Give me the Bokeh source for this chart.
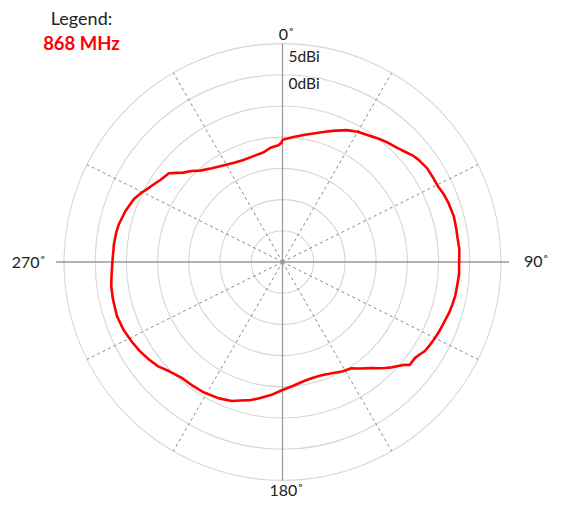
import math
from bokeh.plotting import figure
from bokeh.models import Range1d, ColumnDataSource
from bokeh.embed import file_html
from bokeh.resources import INLINE
from bokeh.core.properties import value

# ---- data ----
angles_deg = [0, 5, 10, 15, 18, 21, 26, 30, 34, 38, 41, 45, 48, 51, 53, 57, 61, 64, 67, 70,
              75, 79, 82, 86, 90, 94, 97, 101, 104, 107, 110, 114, 117, 120, 122, 124, 126, 129,
              130, 132, 134, 136, 138, 140, 144, 147, 151, 156, 161, 166, 170, 175, 180, 185,
              190, 193, 197, 200, 205, 211, 216, 221, 226, 230, 234, 238, 242, 247, 252, 258,
              262, 265, 270, 276, 280, 283, 288, 293, 296, 298, 301, 304, 306, 308, 310, 312,
              315, 318, 323, 329, 334, 339, 345, 350, 354, 358, 359.5, 360]
gain_dbi = [-10.4, -9.9, -9.3, -8.6, -8.05, -7.5, -6.5, -5.9, -5.5, -4.95, -4.55, -4.1, -3.6,
            -3.0, -2.75, -2.4, -2.35, -2.3, -2.0, -1.8, -1.6, -1.65, -1.7, -1.6, -1.7, -1.65,
            -1.75, -1.8, -1.95, -2.1, -2.35, -2.55, -2.75, -2.95, -3.1, -3.5, -3.8, -3.8, -4.4,
            -5.1, -5.7, -6.4, -7.1, -7.8, -8.9, -9.7, -10.0, -10.5, -10.8, -10.8, -10.6, -10.1,
            -9.5, -8.6, -7.8, -7.3, -6.8, -6.3, -5.9, -5.6, -5.5, -5.4, -4.8, -4.0, -3.5, -3.05,
            -2.7, -2.3, -2.1, -2.2, -2.3, -2.5, -2.75, -2.85, -2.95, -3.1, -3.55, -4.15, -4.8,
            -5.3, -5.9, -6.45, -6.7, -6.9, -7.8, -8.6, -9.4, -10.3, -11.2, -11.9, -12.3, -12.5,
            -12.4, -12.2, -11.6, -11.3, -10.9, -10.4]
ring_dbi = [-25, -20, -15, -10, -5, 0, 5]
ring_label_dbi = [5, 0]
ring_labels = ["5dBi", "0dBi"]
axis_angles = [0, 90, 180, 270]
axis_labels = ["0˚", "90˚", "180˚", "270˚"]
spoke_angles = [30, 63.5, 116.5, 150, 210, 243.5, 296.5, 330]
legend_title = "Legend:"
series_name = "868 MHz"

R_MIN, R_MAX = -30.0, 5.0
SPAN = R_MAX - R_MIN

# ---- layout ----
W, H = 555, 498
CXP, CYP = 282, 261.5               # pattern centre in figure pixels
RPX = 218.5                         # outer ring radius in pixels
S = RPX / SPAN                      # pixels per data unit


def px(xp, yp):
    """figure-pixel position -> data position"""
    return (xp - CXP) / S, (CYP - yp) / S


def polar(a_deg, r):
    a = math.radians(a_deg)
    return r * math.sin(a), r * math.cos(a)


p = figure(width=W, height=H, output_backend="svg", toolbar_location=None,
           x_axis_type=None, y_axis_type=None, min_border=0,
           x_range=Range1d(-CXP / S, (W - CXP) / S),
           y_range=Range1d(-(H - CYP) / S, CYP / S))
p.outline_line_color = None
p.grid.visible = False
p.background_fill_color = "white"
p.border_fill_color = "white"

# rings
rings = ColumnDataSource(dict(x=[0] * len(ring_dbi), y=[0] * len(ring_dbi),
                              r=[d - R_MIN for d in ring_dbi]))
p.circle(x="x", y="y", radius="r", source=rings, fill_color=None,
         line_color="#d6d6d6", line_width=1.1)

# dashed spokes
sx, sy = zip(*[polar(a, SPAN) for a in spoke_angles])
p.segment(x0=[0] * len(spoke_angles), y0=[0] * len(spoke_angles), x1=list(sx), y1=list(sy),
          line_color="#8a8a8a", line_width=1, line_dash="3 3")

# main axes
ext = 8 / S
p.segment(x0=[-(SPAN + ext)], y0=[0], x1=[SPAN + ext], y1=[0], line_color="#9a9a9a", line_width=1.3)
p.segment(x0=[0], y0=[-SPAN], x1=[0], y1=[SPAN], line_color="#9a9a9a", line_width=1.3)

# pattern
pts = [polar(a, g - R_MIN) for a, g in zip(angles_deg, gain_dbi)]
p.line(x=[q[0] for q in pts], y=[q[1] for q in pts], line_color="#ff0000", line_width=2.6,
       line_join="round")

FONT = value("Lato")
TXT = "#222222"

# angle labels
offs = {0: (4, -10.5, "center"), 90: (23, -2, "left"), 180: (4, 8.5, "center"),
        270: (-18, -1, "right")}
for a, lab in zip(axis_angles, axis_labels):
    x, y = polar(a, SPAN)
    dx, dy, al = offs[a]
    p.text(x=[x], y=[y], text=[lab], x_offset=dx, y_offset=dy, text_align=al,
           text_baseline="middle", text_font=FONT, text_font_size="16px", text_color=TXT)

# ring labels
roffs = {5: 12, 0: 8.5}
for d, lab in zip(ring_label_dbi, ring_labels):
    p.text(x=[0], y=[d - R_MIN], text=[lab], x_offset=6, y_offset=roffs[d], text_align="left",
           text_baseline="middle", text_font=FONT, text_font_size="15.5px", text_color=TXT)

# legend
lx, ly = px(81, 17)
p.text(x=[lx], y=[ly], text=[legend_title], text_align="center", text_baseline="middle",
       text_font=FONT, text_font_size="18px", text_color=TXT)
lx, ly = px(81, 42)
p.text(x=[lx], y=[ly], text=[series_name], text_align="center", text_baseline="middle",
       text_font=FONT, text_font_size="18.5px", text_font_style="bold", text_color="#ff0000")

open("out.html", "w").write(file_html(p, INLINE))
